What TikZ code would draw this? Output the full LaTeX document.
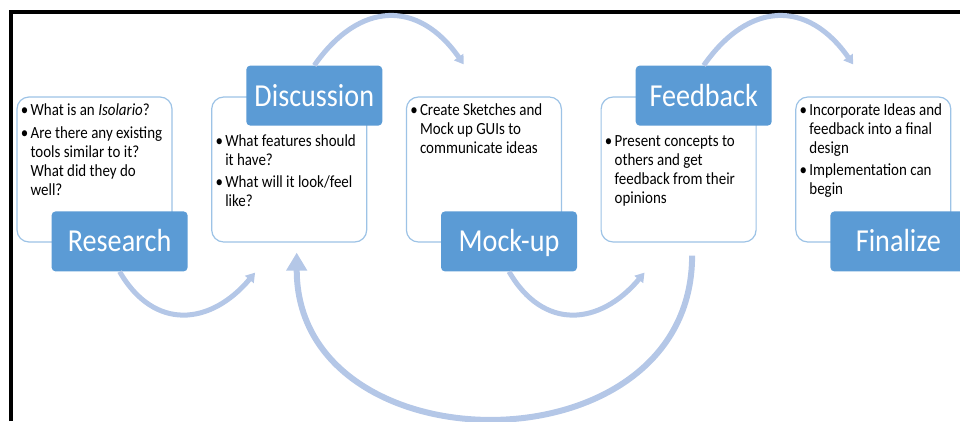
\documentclass[tikz,border=0pt]{standalone}
\usepackage{fontspec}
\setmainfont{Carlito}[FakeStretch=0.88]
\usetikzlibrary{positioning,arrows.meta}
\definecolor{stageblue}{HTML}{5B9BD5}
\definecolor{noteline}{HTML}{9DC3E6}
\definecolor{flowblue}{HTML}{B4C7E7}
\def\bul{\makebox[12pt][c]{\textbullet}}
\tikzset{
  notebox/.style={draw=noteline,line width=1.2pt,fill=white,rounded corners=12pt,
    minimum width=155pt,minimum height=145pt,inner sep=0pt},
  stage/.style={fill=stageblue,rounded corners=4pt,minimum width=136pt,minimum height=60pt,
    inner sep=0pt,text=white,text height=21pt,text depth=0pt,font=\fontsize{32}{32}\selectfont},
  notes/.style={anchor=north west,inner sep=0pt,font=\fontsize{17}{19}\selectfont},
  stepflow/.style={draw=flowblue,line width=5pt,-{Triangle[width=11pt,length=9pt]}},
  backflow/.style={stepflow,line width=6pt,-{Triangle[width=20pt,length=18pt]}}
}

\begin{document}
\begin{tikzpicture}[x=1pt,y=1pt]
    \useasboundingbox (0,0) rectangle (960,-421);
    \draw[line width=4pt] (11,-421) -- (11,-11.5) -- (960,-11.5);
    % boxes with the notes
    \node[notebox] (resbox) at (94.5,-169.5) {};
    \node[notebox,right=38.5pt of resbox] (discbox) {};
    \node[notebox,right=38.5pt of discbox] (mockbox) {};
    \node[notebox,right=38.5pt of mockbox] (fbbox) {};
    \node[notebox,right=38.5pt of fbbox] (finbox) {};
    % stage names
    \node[stage,anchor=south west] (research) at ([shift={(35,-29)}]resbox.south west) {Research};
    \node[stage,anchor=north west] (discussion) at ([shift={(35,31)}]discbox.north west) {Discussion};
    \node[stage,anchor=south west] (mockup) at ([shift={(35,-29)}]mockbox.south west) {Mock-up};
    \node[stage,anchor=north west] (feedback) at ([shift={(35,31)}]fbbox.north west) {Feedback};
    \node[stage,anchor=south west] (finalize) at ([shift={(35,-29)}]finbox.south west) {Finalize};
    % notes
    \node[notes] (restext) at ([shift={(2,-5.5)}]resbox.north west) {\begin{tabular}{@{}l@{}l@{}}
        \bul & What is an \textit{Isolario}?\\[4pt]
        \bul & Are there any existing\\
            & tools similar to it?\\
            & What did they do\\
            & well?
    \end{tabular}};
    \node[notes] (disctext) at ([shift={(2,-37)}]discbox.north west) {\begin{tabular}{@{}l@{}l@{}}
        \bul & What features should\\
            & it have?\\[2.5pt]
        \bul & What will it look/feel\\
            & like?
    \end{tabular}};
    \node[notes] (mocktext) at ([shift={(2,-5.5)}]mockbox.north west) {\begin{tabular}{@{}l@{}l@{}}
        \bul & Create Sketches and\\
            & Mock up GUIs to\\
            & communicate ideas
    \end{tabular}};
    \node[notes] (fbtext) at ([shift={(2,-37)}]fbbox.north west) {\begin{tabular}{@{}l@{}l@{}}
        \bul & Present concepts to\\
            & others and get\\
            & feedback from their\\
            & opinions
    \end{tabular}};
    \node[notes] (fintext) at ([shift={(2,-5.5)}]finbox.north west) {\begin{tabular}{@{}l@{}l@{}}
        \bul & Incorporate Ideas and\\
            & feedback into a final\\
            & design\\[3pt]
        \bul & Implementation can\\
            & begin
    \end{tabular}};
    % arrows between the stages
    \draw[stepflow] (research.south) to[out=-60,in=-130,looseness=1.3] ([shift={(44,-30)}]discbox.south west);
    \draw[stepflow] (discussion.north) to[out=55,in=125,looseness=1.35] ([shift={(58,32)}]mockbox.north west);
    \draw[stepflow] (mockup.south) to[out=-60,in=-130,looseness=1.3] ([shift={(44,-30)}]fbbox.south west);
    \draw[stepflow] (feedback.north) to[out=55,in=125,looseness=1.35] ([shift={(58,32)}]finbox.north west);
    \draw[backflow] ([shift={(13.5,-13)}]fbbox.south) to[out=-90,in=-90,looseness=1.41] ([shift={(7.5,-10)}]discbox.south);
\end{tikzpicture}
\end{document}
